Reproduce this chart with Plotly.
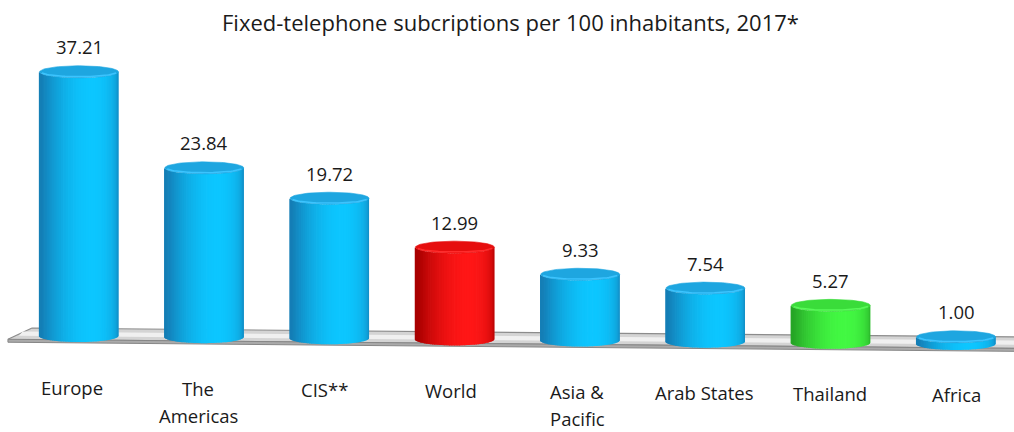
import numpy as np
import plotly.graph_objects as go

# Fixed-telephone subscriptions per 100 inhabitants, 2017
categories = ["Europe", "The<br>Americas", "CIS**", "World", "Asia &<br>Pacific",
              "Arab States", "Thailand", "Africa"]
values = [37.21, 23.84, 19.72, 12.99, 9.33, 7.54, 5.27, 1.00]
groups = ["region", "region", "region", "world", "region", "region", "thailand", "region"]

TITLE = "Fixed-telephone subcriptions per 100 inhabitants, 2017*"
FONT = "Open Sans"

# colour ramps for cylinder shading: (shadow, highlight, top face)
palette = {
    "region":   ((20, 126, 182), (12, 198, 255), (30, 166, 224)),
    "world":    ((168, 0, 0), (255, 22, 22), (230, 14, 14)),
    "thailand": ((38, 166, 38), (66, 248, 66), (58, 220, 58)),
}

# pseudo-3D geometry (data units)
RX = 0.315          # cylinder half width (category units)
RY = 0.85           # ellipse half height (value units)
SLOPE = 0.16        # floor drop per category
N_STRIPS = 48
OVERLAP = 0.006     # strips overlap slightly so no seams show


def base_of(x):
    return -SLOPE * x


def rgb(c):
    return "rgb(%d,%d,%d)" % tuple(int(round(v)) for v in c)


def shade(dark, light, theta):
    light_dir = np.pi / 2 - 0.35
    d = max(0.0, np.cos(theta - light_dir)) ** 1.4
    return tuple(dark[k] + (light[k] - dark[k]) * d for k in range(3))


fig = go.Figure()

# floor slab
fx0_back, fx0_front, fx1 = -0.375, -0.567, 7.7
BACK, FRONT, THICK = 1.07, -0.55, 0.42
top_x = [fx0_back, fx1, fx1, fx0_front, fx0_back]
top_y = [base_of(fx0_back) + BACK, base_of(fx1) + BACK, base_of(fx1) + FRONT,
         base_of(fx0_front) + FRONT, base_of(fx0_back) + BACK]
fig.add_trace(go.Scatter(x=top_x, y=top_y, mode="lines", fill="toself",
                         fillcolor="rgb(212,212,212)",
                         line=dict(color="rgb(140,140,140)", width=1.2),
                         hoverinfo="skip", showlegend=False))
# light streak across the floor
sx0 = -0.45
streak_x = [sx0, fx1, fx1, sx0 - 0.03, sx0]
streak_y = [base_of(sx0) + 0.55, base_of(fx1) + 0.55, base_of(fx1) - 0.05,
            base_of(sx0) - 0.05, base_of(sx0) + 0.55]
fig.add_trace(go.Scatter(x=streak_x, y=streak_y, mode="lines", fill="toself",
                         fillcolor="rgb(240,240,240)", line=dict(width=0),
                         hoverinfo="skip", showlegend=False))
front_x = [fx0_front, fx1, fx1, fx0_front, fx0_front]
front_y = [base_of(fx0_front) + FRONT, base_of(fx1) + FRONT,
           base_of(fx1) + FRONT - THICK, base_of(fx0_front) + FRONT - THICK,
           base_of(fx0_front) + FRONT]
fig.add_trace(go.Scatter(x=front_x, y=front_y, mode="lines", fill="toself",
                         fillcolor="rgb(170,170,170)",
                         line=dict(color="rgb(135,135,135)", width=1),
                         hoverinfo="skip", showlegend=False))

# cylinders
thetas = np.linspace(np.pi, 0, N_STRIPS + 1)
for i, (val, grp) in enumerate(zip(values, groups)):
    dark, light, topc = palette[grp]
    b = base_of(i)
    t = b + val
    for k in range(N_STRIPS):
        a1, a2 = thetas[k], thetas[k + 1]
        x1 = i + RX * np.cos(a1) - (OVERLAP if k > 0 else 0)
        x2 = i + RX * np.cos(a2)
        s1, s2 = np.sin(a1), np.sin(a2)
        col = rgb(shade(dark, light, 0.5 * (a1 + a2)))
        fig.add_trace(go.Scatter(
            x=[x1, x2, x2, x1, x1],
            y=[b - RY * s1, b - RY * s2, t - RY * s2, t - RY * s1, b - RY * s1],
            mode="lines", fill="toself", fillcolor=col,
            line=dict(width=0),
            hoverinfo="skip", showlegend=False))
    ang = np.linspace(0, 2 * np.pi, 90)
    fig.add_trace(go.Scatter(
        x=i + RX * np.cos(ang), y=t + RY * np.sin(ang),
        mode="lines", fill="toself", fillcolor=rgb(topc),
        line=dict(color=rgb(topc), width=0.6),
        hoverinfo="skip", showlegend=False))
    # soft highlight rim on the front of the lid
    front = np.linspace(np.pi * 1.08, np.pi * 1.92, 40)
    rim = tuple(min(255, c + 30) for c in topc)
    fig.add_trace(go.Scatter(
        x=i + RX * 0.97 * np.cos(front), y=t + RY * 0.8 * np.sin(front),
        mode="lines", line=dict(color=rgb(rim), width=1.5),
        hoverinfo="skip", showlegend=False))

annotations = []
# value labels
for i, val in enumerate(values):
    annotations.append(dict(
        x=i, y=base_of(i) + val, xref="x", yref="y", text=f"{val:.2f}",
        showarrow=False, yshift=25, yanchor="middle",
        font=dict(family=FONT, size=18.5, color="#1a1a1a")))
# category labels below the floor
for i, cat in enumerate(categories):
    for j, line in enumerate(cat.split("<br>")):
        annotations.append(dict(
            x=i, y=base_of(i), xref="x", yref="y", text=line,
            showarrow=False, yshift=-51 - 27 * j, yanchor="middle",
            xshift=-7 * (1 - i / 7),
            font=dict(family=FONT, size=18.5, color="#1a1a1a")))
# title
annotations.append(dict(
    x=0.503, y=1 - 22 / 432, xref="paper", yref="paper", text=TITLE,
    showarrow=False, xanchor="center", yanchor="middle",
    font=dict(family=FONT, size=22, color="#1a1a1a")))

fig.update_layout(
    width=1014, height=432, autosize=False,
    margin=dict(l=0, r=0, t=0, b=0),
    paper_bgcolor="white", plot_bgcolor="white",
    xaxis=dict(range=[-79 / 125.3, (1014 - 79) / 125.3], visible=False,
               fixedrange=True),
    yaxis=dict(range=[(336 - 432) / 7.1, 336 / 7.1], visible=False,
               fixedrange=True),
    annotations=annotations,
    showlegend=False,
)

fig.write_html("out.html")
